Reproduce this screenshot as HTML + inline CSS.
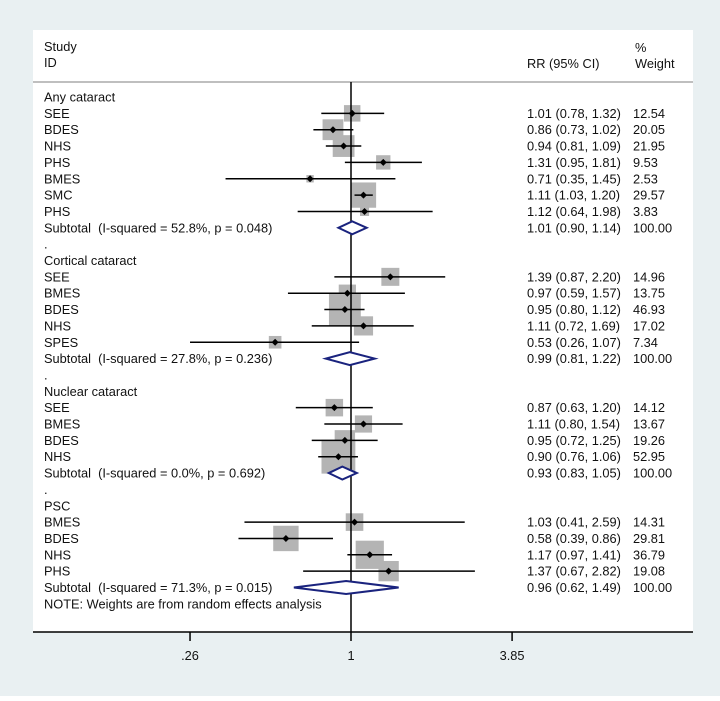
<!DOCTYPE html>
<html><head><meta charset="utf-8"><style>
body{margin:0;background:#fff}
svg text{font-family:"Liberation Sans",Arial,sans-serif;font-size:12.8px;fill:#111;white-space:pre}
</style></head><body>
<svg id="chart" width="720" height="696" xmlns="http://www.w3.org/2000/svg">
<rect x="0" y="0" width="720" height="696" fill="#e9f0f2"/>
<rect x="33" y="30" width="660" height="602" fill="#ffffff"/>
<line x1="33" y1="82" x2="693" y2="82" stroke="#aaa" stroke-width="1.5"/>
<text x="44" y="51">Study</text>
<text x="44" y="67">ID</text>
<text x="527" y="68">RR (95% CI)</text>
<text x="635" y="52">%</text>
<text x="635" y="68">Weight</text>
<g id="marks"></g>
<line x1="33" y1="632" x2="693" y2="632" stroke="#000" stroke-width="1.5"/>
<g id="axis"></g>
</svg>
<script>
const labels=["Any cataract","SEE","BDES","NHS","PHS","BMES","SMC","PHS","Subtotal  (I-squared = 52.8%, p = 0.048)",".","Cortical cataract","SEE","BMES","BDES","NHS","SPES","Subtotal  (I-squared = 27.8%, p = 0.236)",".","Nuclear cataract","SEE","BMES","BDES","NHS","Subtotal  (I-squared = 0.0%, p = 0.692)",".","PSC","BMES","BDES","NHS","PHS","Subtotal  (I-squared = 71.3%, p = 0.015)","NOTE: Weights are from random effects analysis"];
const types=["h","s","s","s","s","s","s","s","t","b","h","s","s","s","s","s","t","b","h","s","s","s","s","t","b","h","s","s","s","s","t","b"];
const rr=[0,1.01,0.86,0.94,1.31,0.71,1.11,1.12,1.01,0,0,1.39,0.97,0.95,1.11,0.53,0.99,0,0,0.87,1.11,0.95,0.90,0.93,0,0,1.03,0.58,1.17,1.37,0.96,0];
const lo=[0,0.78,0.73,0.81,0.95,0.35,1.03,0.64,0.90,0,0,0.87,0.59,0.80,0.72,0.26,0.81,0,0,0.63,0.80,0.72,0.76,0.83,0,0,0.41,0.39,0.97,0.67,0.62,0];
const hi=[0,1.32,1.02,1.09,1.81,1.45,1.20,1.98,1.14,0,0,2.20,1.57,1.12,1.69,1.07,1.22,0,0,1.20,1.54,1.25,1.06,1.05,0,0,2.59,0.86,1.41,2.82,1.49,0];
const weights=[0,12.54,20.05,21.95,9.53,2.53,29.57,3.83,100,0,0,14.96,13.75,46.93,17.02,7.34,100,0,0,14.12,13.67,19.26,52.95,100,0,0,14.31,29.81,36.79,19.08,100,0];
const tickVals=[0.26,1,3.85];
const tickLabels=[".26","1","3.85"];
const NS="http://www.w3.org/2000/svg";
const xs=v=>351+Math.log(v)*119.5;
const ys=i=>97+i*16.35;
const g=document.getElementById('marks');
function mk(tag,a,parent){const e=document.createElementNS(NS,tag);for(const k in a)e.setAttribute(k,a[k]);(parent||g).appendChild(e);return e;}
const f=v=>v.toFixed(2);
labels.forEach((l,i)=>{if(types[i]!=="s")return;const s=4.65*Math.sqrt(weights[i]);
 const r=mk('rect',{x:xs(rr[i])-s/2,y:ys(i)-s/2,width:s,height:s,fill:'#b4b4b4'});
 
 });
const vl=mk('line',{x1:351,y1:82,x2:351,y2:632,stroke:'#000','stroke-width':1.5});


labels.forEach((l,i)=>{const y=ys(i);
 const t=mk('text',{x:44,y:y+4.5});t.textContent=l;
 
 
 if(types[i]==="s"||types[i]==="t"){
  const c=mk('text',{x:527,y:y+4.5});c.textContent=f(rr[i])+" ("+f(lo[i])+", "+f(hi[i])+")";
  
  
  const w=mk('text',{x:633,y:y+4.5});w.textContent=f(weights[i]);
  
  }
 if(types[i]==="s"){
  const ln=mk('line',{x1:xs(lo[i]),y1:y,x2:xs(hi[i]),y2:y,stroke:'#000','stroke-width':1.5});
  
  
  const p=mk('path',{d:`M${xs(rr[i])-3.5},${y} L${xs(rr[i])},${y-3.5} L${xs(rr[i])+3.5},${y} L${xs(rr[i])},${y+3.5}Z`,fill:'#000'});
  
  }
 if(types[i]==="t"){
  const d=mk('path',{d:`M${xs(lo[i])},${y} L${xs(rr[i])},${y-6.5} L${xs(hi[i])},${y} L${xs(rr[i])},${y+6.5}Z`,fill:'#fff',stroke:'#1a237e','stroke-width':2});
  
  }
});
const ax=document.getElementById('axis');
tickVals.forEach((v,i)=>{
 const tk=mk('line',{x1:xs(v),y1:632,x2:xs(v),y2:641,stroke:'#000','stroke-width':1.5},ax);
 
 
 const t=mk('text',{x:xs(v),y:660,'text-anchor':'middle'},ax);t.textContent=tickLabels[i];
 
 });
</script>
</body></html>
